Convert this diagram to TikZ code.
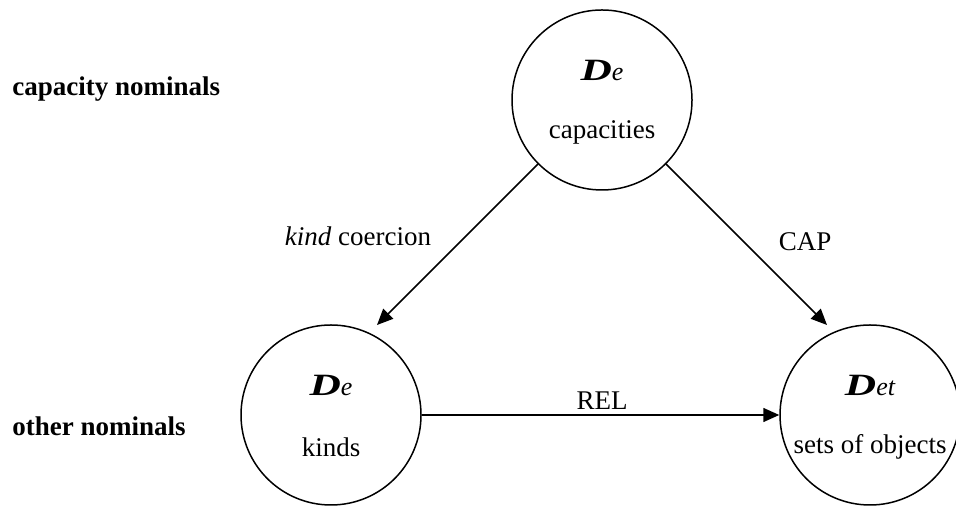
\documentclass[tikz,border=0pt]{standalone}
\usepackage{fontspec}
\setmainfont{Liberation Serif}
\usetikzlibrary{arrows.meta}
\tikzset{dom/.style={circle,draw,line width=0.75pt,minimum size=90pt,inner sep=0pt},
arr/.style={-{Triangle[length=8pt,width=7pt]},line width=0.75pt},
lab/.style={font=\fontsize{13.5}{16}\selectfont\bfseries,anchor=west,inner sep=0pt}}
\newcommand{\domsym}[1]{\scalebox{1.4}[1]{\fontsize{15.5}{16}\selectfont\bfseries\itshape D}{\fontsize{13}{13}\selectfont\itshape #1}}

\begin{document}
\begin{tikzpicture}[x=0.5pt,y=0.5pt,font=\fontsize{13.5}{16}\selectfont]
	\useasboundingbox (0,0) rectangle (956,506);
	\def\up{15pt}
	\def\dn{-16pt}
	\foreach \n/\x/\y/\s/\t in {cap/602/406/e/capacities,kinds/331/91/e/kinds,sets/870/91/et/sets of objects}{
		\node[dom] (\n) at (\x,\y) {};
		\node (\n-d) at ([yshift=\up]\n.center) {\domsym{\s}};
		\node (\n-t) at ([yshift=\dn]\n.center) {\t};
	}
	\node[lab] (capnom) at (12,417) {capacity nominals};
	\node[lab] (othnom) at (12,80) {other nominals};
	\coordinate (kindsin) at ([shift={(46,90)}]kinds.center);
	\coordinate (setsin) at ([shift={(-43,90)}]sets.center);
	\draw[arr] (cap.225) -- (kindsin);
	\draw[arr] (cap.315) -- (setsin);
	\draw[arr] (kinds.east) -- (sets.west);
	\node (coer) at (358,270) {\textit{kind} coercion};
	\node (capl) at (805,264) {CAP};
	\node (rel) at (602,105) {REL};
\end{tikzpicture}
\end{document}
